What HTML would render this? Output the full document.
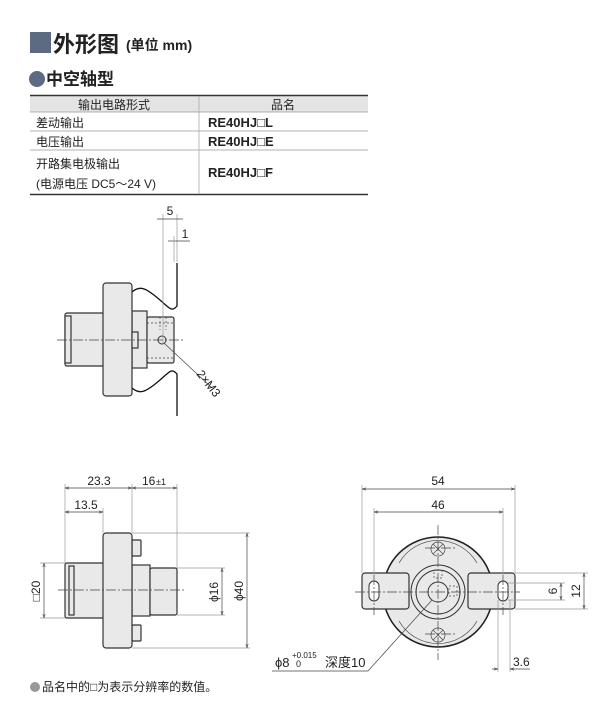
<!DOCTYPE html>
<html><head><meta charset="utf-8"><style>
html,body{margin:0;padding:0;background:#fff;}
svg{display:block;}
text{font-family:"Liberation Sans","Noto Sans CJK SC",sans-serif;fill:#222;}
.b{fill:#e9e9e9;stroke:#333;stroke-width:1.2;}
.d{stroke:#444;stroke-width:0.7;fill:none;}
.e{stroke:#999;stroke-width:0.7;fill:none;}
.c{stroke:#444;stroke-width:0.7;stroke-dasharray:10 2 2 2;fill:none;}
.h{stroke:#444;stroke-width:0.7;stroke-dasharray:2 2;fill:none;}
.w{stroke:#111;stroke-width:1.3;fill:none;}
</style></head><body>
<svg width="614" height="720" viewBox="0 0 614 720" xmlns="http://www.w3.org/2000/svg">
<defs><marker id="a" viewBox="0 0 10 10" refX="10" refY="5" markerWidth="6" markerHeight="6" orient="auto-start-reverse"><path d="M0,2 L10,5 L0,8" fill="none" stroke="#444" stroke-width="1.2"/></marker></defs>
<!-- header -->
<rect x="30" y="32" width="21" height="21" fill="#5c6a82"/>
<text x="53" y="52" font-size="22" font-weight="bold">外形图</text>
<text x="126" y="50" font-size="14" font-weight="bold">(单位 mm)</text>
<circle cx="37" cy="79" r="8" fill="#5c6a82"/>
<text x="46" y="85" font-size="17" font-weight="bold">中空轴型</text>
<!-- table -->
<rect x="30" y="96" width="338" height="16" fill="#e4e4e4"/>
<line x1="30" y1="95.5" x2="368" y2="95.5" stroke="#333" stroke-width="1.5"/>
<line x1="30" y1="112" x2="368" y2="112" stroke="#999" stroke-width="0.8"/>
<line x1="30" y1="131" x2="368" y2="131" stroke="#999" stroke-width="0.8"/>
<line x1="30" y1="150" x2="368" y2="150" stroke="#999" stroke-width="0.8"/>
<line x1="30" y1="194.5" x2="368" y2="194.5" stroke="#333" stroke-width="1.5"/>
<line x1="199" y1="96" x2="199" y2="194" stroke="#aaa" stroke-width="0.8"/>
<text x="114" y="109" font-size="12" text-anchor="middle">输出电路形式</text>
<text x="283" y="109" font-size="12" text-anchor="middle">品名</text>
<text x="36" y="127" font-size="12">差动输出</text>
<text x="36" y="146" font-size="12">电压输出</text>
<text x="36" y="168" font-size="12">开路集电极输出</text>
<text x="36" y="188" font-size="12">(电源电压 DC5～24 V)</text>
<text x="208" y="127" font-size="13" font-weight="bold">RE40HJ□L</text>
<text x="208" y="146" font-size="13" font-weight="bold">RE40HJ□E</text>
<text x="208" y="177" font-size="13" font-weight="bold">RE40HJ□F</text>

<!-- view 1 -->
<path d="M132,292 C140,285 146,288 160,300 C170,309 172,312 177,306 L177,263" class="w"/>
<path d="M132,388 C140,395 146,392 160,380 C170,371 172,368 177,374 L177,416" class="w"/>
<rect class="b" x="65" y="313" width="39" height="53" rx="2"/>
<rect class="b" x="65" y="316" width="6" height="47"/>
<rect class="b" x="132" y="311" width="15" height="57"/>
<rect class="b" x="103" y="283" width="29" height="113" rx="3"/>
<rect class="b" x="147" y="317" width="27" height="46" rx="2"/>
<rect class="b" x="132" y="332" width="6" height="16"/>
<line class="h" x1="147" y1="323" x2="174" y2="323"/><line class="h" x1="147" y1="358" x2="174" y2="358"/>
<line class="h" x1="160" y1="317" x2="160" y2="330"/><line class="h" x1="166" y1="317" x2="166" y2="330"/>
<line class="c" x1="57" y1="340" x2="183" y2="340"/>
<circle cx="162" cy="340" r="4" fill="none" stroke="#333"/>
<line class="d" x1="164" y1="343" x2="212" y2="388"/>
<text x="196" y="374" font-size="12" transform="rotate(52 196 374)">2×M3</text>
<line class="e" x1="163" y1="214" x2="163" y2="345"/>
<line class="e" x1="177" y1="214" x2="177" y2="262"/>
<line class="d" x1="157" y1="219" x2="183" y2="219"/>
<text x="170" y="215" font-size="12" text-anchor="middle">5</text>
<line class="d" x1="168" y1="241" x2="190" y2="241"/>
<line class="e" x1="174" y1="236" x2="174" y2="262"/>
<text x="185" y="238" font-size="12" text-anchor="middle">1</text>

<!-- view 2 -->
<rect class="b" x="65" y="563" width="39" height="55" rx="2"/>
<rect class="b" x="69" y="566" width="5" height="49"/>
<rect class="b" x="132" y="540" width="9" height="16" rx="1"/>
<rect class="b" x="132" y="625" width="9" height="16" rx="1"/>
<rect class="b" x="132" y="565" width="18" height="51"/>
<rect class="b" x="103" y="533" width="29" height="115" rx="3"/>
<rect class="b" x="150" y="568" width="27" height="47" rx="2"/>
<line class="c" x1="58" y1="590" x2="186" y2="590"/>
<line class="e" x1="65" y1="484" x2="65" y2="563"/>
<line class="e" x1="103" y1="508" x2="103" y2="533"/>
<line class="e" x1="132" y1="484" x2="132" y2="533"/>
<line class="e" x1="177" y1="484" x2="177" y2="568"/>
<line class="d" x1="65" y1="488" x2="132" y2="488" marker-start="url(#a)" marker-end="url(#a)"/>
<line class="d" x1="132" y1="488" x2="177" y2="488" marker-start="url(#a)" marker-end="url(#a)"/>
<line class="d" x1="65" y1="512" x2="103" y2="512" marker-start="url(#a)" marker-end="url(#a)"/>
<text x="99" y="485" font-size="12" text-anchor="middle">23.3</text>
<text x="142" y="485" font-size="12">16</text><text x="156" y="485" font-size="9">±1</text>
<text x="86" y="509" font-size="12" text-anchor="middle">13.5</text>
<line class="e" x1="40" y1="563" x2="65" y2="563"/><line class="e" x1="40" y1="618" x2="65" y2="618"/>
<line class="d" x1="44" y1="563" x2="44" y2="618" marker-start="url(#a)" marker-end="url(#a)"/>
<text x="40" y="591" font-size="12" text-anchor="middle" transform="rotate(-90 40 591)">□20</text>
<line class="e" x1="177" y1="568" x2="225" y2="568"/><line class="e" x1="177" y1="615" x2="225" y2="615"/>
<line class="d" x1="222" y1="568" x2="222" y2="615" marker-start="url(#a)" marker-end="url(#a)"/>
<text x="218" y="592" font-size="12" text-anchor="middle" transform="rotate(-90 218 592)">ϕ16</text>
<line class="e" x1="132" y1="533" x2="250" y2="533"/><line class="e" x1="132" y1="648" x2="250" y2="648"/>
<line class="d" x1="247" y1="533" x2="247" y2="648" marker-start="url(#a)" marker-end="url(#a)"/>
<text x="243" y="591" font-size="12" text-anchor="middle" transform="rotate(-90 243 591)">ϕ40</text>

<!-- view 3 -->
<circle cx="438" cy="592" r="55" fill="#e9e9e9" stroke="#222" stroke-width="1.6"/>
<path d="M399,563 A45,45 0 0 1 477,563 M399,621 A45,45 0 0 0 477,621" class="d"/>
<rect class="b" x="362" y="573" width="47" height="36" rx="3"/>
<rect class="b" x="468" y="573" width="47" height="36" rx="3"/>
<rect x="369" y="581" width="10" height="20" rx="5" fill="#fff" stroke="#333"/>
<rect x="498" y="581" width="10" height="20" rx="5" fill="#fff" stroke="#333"/>
<circle cx="438" cy="592" r="27" fill="#e9e9e9" stroke="#333"/>
<circle cx="438" cy="592" r="22" fill="none" stroke="#333"/>
<circle cx="438" cy="592" r="10" fill="#e9e9e9" stroke="#333"/>
<rect x="449" y="586" width="8" height="10" fill="none" class="h"/>
<rect x="434" y="570" width="8" height="8" fill="none" class="h"/>
<g class="d" stroke="#333">
<circle cx="438" cy="549" r="7"/><path d="M433,544 L443,554 M443,544 L433,554"/>
<circle cx="438" cy="635" r="7"/><path d="M433,630 L443,640 M443,630 L433,640"/>
</g>
<line class="c" x1="425" y1="548" x2="455" y2="548"/><line class="c" x1="425" y1="634" x2="455" y2="634"/>
<line class="c" x1="355" y1="592" x2="520" y2="592"/>
<line class="c" x1="438" y1="525" x2="438" y2="660"/>
<line class="c" x1="374" y1="575" x2="374" y2="615"/><line class="c" x1="503" y1="575" x2="503" y2="615"/>
<line class="e" x1="362" y1="485" x2="362" y2="573"/><line class="e" x1="515" y1="485" x2="515" y2="573"/>
<line class="e" x1="374" y1="508" x2="374" y2="575"/><line class="e" x1="503" y1="508" x2="503" y2="575"/>
<line class="d" x1="362" y1="489" x2="515" y2="489" marker-start="url(#a)" marker-end="url(#a)"/>
<line class="d" x1="374" y1="512" x2="503" y2="512" marker-start="url(#a)" marker-end="url(#a)"/>
<text x="438" y="485" font-size="12" text-anchor="middle">54</text>
<text x="438" y="509" font-size="12" text-anchor="middle">46</text>
<line class="e" x1="515" y1="573" x2="588" y2="573"/><line class="e" x1="515" y1="609" x2="588" y2="609"/>
<line class="e" x1="508" y1="583" x2="565" y2="583"/><line class="e" x1="508" y1="600" x2="565" y2="600"/>
<line class="d" x1="584" y1="573" x2="584" y2="609" marker-start="url(#a)" marker-end="url(#a)"/>
<line class="d" x1="561" y1="583" x2="561" y2="600" marker-start="url(#a)" marker-end="url(#a)"/>
<text x="580" y="591" font-size="12" text-anchor="middle" transform="rotate(-90 580 591)">12</text>
<text x="557" y="591" font-size="12" text-anchor="middle" transform="rotate(-90 557 591)">6</text>
<line class="e" x1="498" y1="600" x2="498" y2="672"/><line class="e" x1="510" y1="600" x2="510" y2="672"/>
<line class="d" x1="492" y1="669" x2="498" y2="669" marker-end="url(#a)"/>
<line class="d" x1="530" y1="669" x2="510" y2="669" marker-end="url(#a)"/>
<text x="513" y="666" font-size="12">3.6</text>
<line class="d" x1="272" y1="671" x2="368" y2="671"/>
<line class="d" x1="368" y1="671" x2="432" y2="600"/>
<text x="275" y="667" font-size="13">ϕ8</text>
<text x="292" y="658" font-size="8">+0.015</text>
<text x="296" y="667" font-size="9">0</text>
<text x="325" y="667" font-size="13">深度10</text>

<!-- footnote -->
<circle cx="35" cy="687" r="5" fill="#999"/>
<text x="42" y="691" font-size="12">品名中的□为表示分辨率的数值。</text>
</svg>
</body></html>
